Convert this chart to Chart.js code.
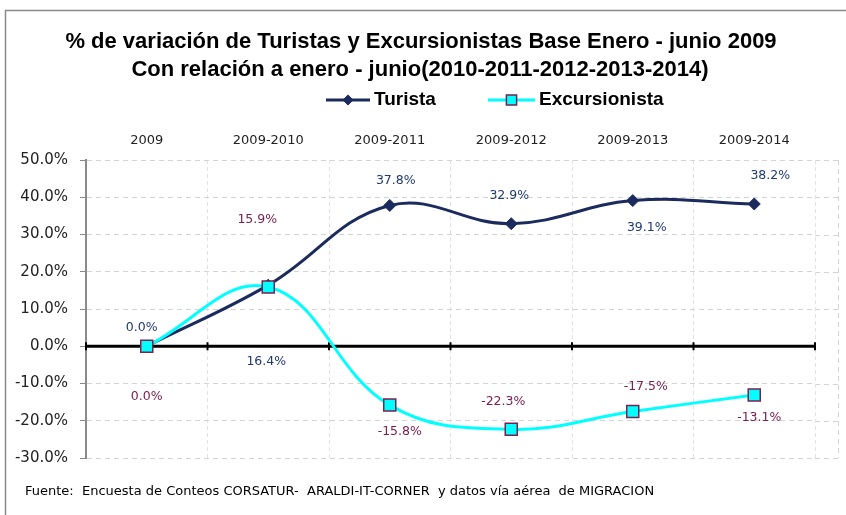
<!DOCTYPE html>
<html>
<head>
<meta charset="utf-8">
<script src="https://cdn.jsdelivr.net/npm/chart.js@4.4.1/dist/chart.umd.min.js"></script>
<style>
  html, body { margin: 0; padding: 0; background: #fff; }
  #wrap { width: 846px; height: 515px; position: relative; }
</style>
</head>
<body>
<div id="wrap"><canvas id="variationChart" width="846" height="515"></canvas></div>
<script>
// data
const categories = ['2009', '2009-2010', '2009-2011', '2009-2012', '2009-2013', '2009-2014'];
const turista = [0.0, 16.4, 37.8, 32.9, 39.1, 38.2];
const excursionista = [0.0, 15.9, -15.8, -22.3, -17.5, -13.1];
const yTicks = { min: -30, max: 50, step: 10 };

const navy = '#1c2b5e';
const cyan = '#00ffff';
const maroon = '#7a2150';
const titleFont = 'Liberation Sans';
const axisFont = 'DejaVu Sans';

// label offsets (dx, dy) from each point, like the original layout
const turistaLabelOffsets = [[-5, -19], [-2, 77], [6, -25], [-2, -28], [14, 27], [16, -28]];
const excurLabelOffsets = [[0, 50], [-11, -67], [10, 27], [-8, -28], [13, -25], [5, 23]];

const decorPlugin = {
    id: 'decor',
    beforeDraw(chart) {
        const { ctx, chartArea, scales } = chart;
        const y = scales.y;
        ctx.save();
        // outer frame
        ctx.strokeStyle = '#8a8a8a';
        ctx.lineWidth = 1.5;
        ctx.strokeRect(5.5, 10.5, 860, 520);
        // gridlines continue a little past the last category, like Excel did
        ctx.strokeStyle = '#d4d4d4';
        ctx.lineWidth = 1;
        ctx.setLineDash([5, 4]);
        const extRight = chartArea.right + 23;
        y.ticks.forEach(t => {
            if (t.value === 0) return;
            const py = Math.round(y.getPixelForValue(t.value)) + 0.5;
            ctx.beginPath();
            ctx.moveTo(chartArea.right, py);
            ctx.lineTo(extRight, py);
            ctx.stroke();
        });
        ctx.beginPath();
        ctx.moveTo(extRight + 0.5, chartArea.top);
        ctx.lineTo(extRight + 0.5, chartArea.bottom);
        ctx.stroke();
        ctx.restore();
    },
    beforeDatasetsDraw(chart) {
        const { ctx, chartArea, scales } = chart;
        const x = scales.x, y = scales.y;
        const y0 = y.getPixelForValue(0);
        ctx.save();
        ctx.strokeStyle = '#000';
        ctx.lineWidth = 3;
        ctx.beginPath();
        ctx.moveTo(chartArea.left, y0);
        ctx.lineTo(chartArea.right, y0);
        ctx.stroke();
        // category boundary ticks on the zero line
        ctx.lineWidth = 2;
        const half = (x.getPixelForValue(1) - x.getPixelForValue(0)) / 2;
        for (let i = 0; i <= categories.length; i++) {
            const px = i < categories.length ? x.getPixelForValue(i) - half : x.getPixelForValue(i - 1) + half;
            ctx.beginPath();
            ctx.moveTo(px, y0 - 4);
            ctx.lineTo(px, y0 + 4);
            ctx.stroke();
        }
        ctx.restore();
    },
    afterDatasetsDraw(chart) {
        const { ctx } = chart;
        ctx.save();
        ctx.font = '12.5px "' + axisFont + '"';
        ctx.textAlign = 'center';
        ctx.textBaseline = 'middle';
        const sets = [
            { idx: 0, color: '#1f3a70', offs: turistaLabelOffsets },
            { idx: 1, color: maroon, offs: excurLabelOffsets }
        ];
        sets.forEach(s => {
            const meta = chart.getDatasetMeta(s.idx);
            const vals = chart.data.datasets[s.idx].data;
            meta.data.forEach((pt, i) => {
                ctx.fillStyle = s.color;
                ctx.fillText(vals[i].toFixed(1) + '%', pt.x + s.offs[i][0], pt.y + s.offs[i][1]);
            });
        });
        ctx.restore();
    },
    afterDraw(chart) {
        const { ctx } = chart;
        ctx.save();
        // title
        ctx.fillStyle = '#000';
        ctx.textAlign = 'center';
        ctx.textBaseline = 'middle';
        ctx.font = 'bold 22px "' + titleFont + '"';
        ctx.fillText('% de variación de Turistas y Excursionistas Base Enero - junio 2009', 421, 42);
        ctx.fillText('Con relación a enero - junio(2010-2011-2012-2013-2014)', 420, 70);

        // legend
        ctx.font = 'bold 19px "' + titleFont + '"';
        ctx.textAlign = 'left';
        const items = [
            { ds: chart.data.datasets[0], x0: 326, x1: 370 },
            { ds: chart.data.datasets[1], x0: 488, x1: 535 }
        ];
        items.forEach(it => {
            const ds = it.ds;
            ctx.strokeStyle = ds.borderColor;
            ctx.lineWidth = 3;
            ctx.beginPath();
            ctx.moveTo(it.x0, 100);
            ctx.lineTo(it.x1, 100);
            ctx.stroke();
            ctx.fillStyle = ds.pointBackgroundColor;
            ctx.strokeStyle = ds.pointBorderColor;
            ctx.lineWidth = ds.pointBorderWidth;
            Chart.helpers.drawPoint(ctx, {
                pointStyle: ds.pointStyle,
                radius: ds.pointRadius * 0.85,
                borderWidth: ds.pointBorderWidth
            }, (it.x0 + it.x1) / 2, 100);
            ctx.fillStyle = '#000';
            ctx.fillText(ds.label, it.x1 + 4, 100);
        });

        // source note
        ctx.font = '13px "' + axisFont + '"';
        ctx.fillStyle = '#000';
        ctx.fillText('Fuente:  Encuesta de Conteos CORSATUR-  ARALDI-IT-CORNER  y datos vía aérea  de MIGRACION', 25, 492);
        ctx.restore();
    }
};

new Chart(document.getElementById('variationChart'), {
    type: 'line',
    data: {
        labels: categories,
        datasets: [{
            label: 'Turista',
            data: turista,
            borderColor: navy,
            backgroundColor: navy,
            borderWidth: 3,
            tension: 0.4,
            pointStyle: 'rectRot',
            pointRadius: 6,
            pointBackgroundColor: navy,
            pointBorderColor: navy,
            pointBorderWidth: 1,
            order: 1
        }, {
            label: 'Excursionista',
            data: excursionista,
            borderColor: cyan,
            backgroundColor: cyan,
            borderWidth: 3,
            tension: 0.4,
            pointStyle: 'rect',
            pointRadius: 8.5,
            pointBackgroundColor: cyan,
            pointBorderColor: maroon,
            pointBorderWidth: 1.5,
            order: 0
        }]
    },
    options: {
        responsive: false,
        animation: false,
        layout: { padding: { left: 5, right: 31, top: 130, bottom: 57 } },
        plugins: {
            legend: { display: false },
            title: { display: false },
            tooltip: { enabled: false }
        },
        scales: {
            x: {
                position: 'top',
                offset: true,
                afterFit(scale) { scale.height = 30; },
                grid: { offset: true, color: '#e2e2e2', drawTicks: false, tickLength: 0 },
                border: { display: false, dash: [4, 3] },
                ticks: { color: '#222', font: { family: axisFont, size: 13 }, padding: 12, maxRotation: 0 }
            },
            y: {
                min: yTicks.min,
                max: yTicks.max,
                afterFit(scale) { scale.width = 81; },
                ticks: {
                    stepSize: yTicks.step,
                    color: '#222',
                    padding: 12,
                    font: { family: axisFont, size: 15 },
                    callback: v => v.toFixed(1) + '%'
                },
                grid: {
                    color: c => (c.tick && c.tick.value === 0) ? 'rgba(0,0,0,0)' : '#d4d4d4',
                    tickColor: '#8a8a8a',
                    tickLength: 6
                },
                border: { display: true, color: '#8a8a8a', width: 2, dash: [5, 4] }
            }
        }
    },
    plugins: [decorPlugin]
});
</script>
</body>
</html>
